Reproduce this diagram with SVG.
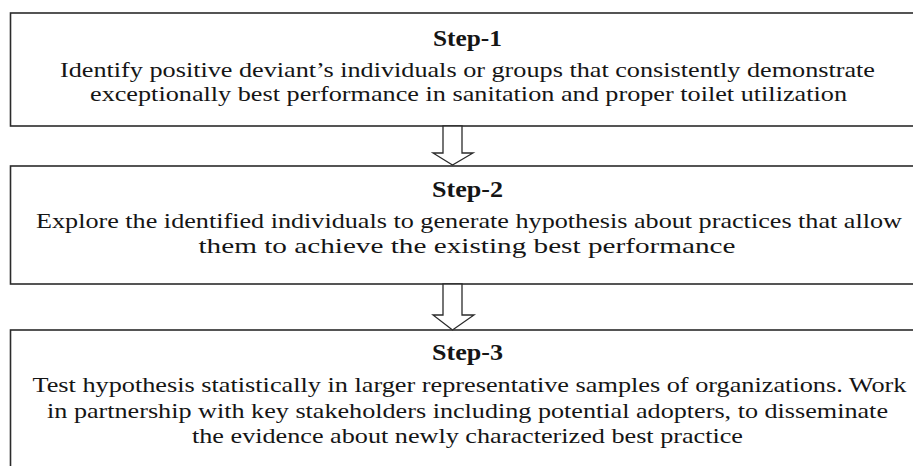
<svg xmlns="http://www.w3.org/2000/svg" width="913" height="466" viewBox="0 0 913 466">
  <style>
    .box { fill: #ffffff; stroke: #2b2b2b; stroke-width: 1.6; }
    .arrow { fill: #ffffff; stroke: #2b2b2b; stroke-width: 1.3; stroke-linejoin: miter; }
    text { font-family: "Liberation Serif", "Times New Roman", "DejaVu Serif", serif; fill: #151515; text-anchor: middle; }
    .title { font-weight: bold; font-size: 23px; }
    .body { font-size: 21.5px; }
  </style>
  <rect width="913" height="466" fill="#ffffff"/>

  <!-- step boxes -->
  <g id="step1">
    <rect class="box" x="10.5" y="13" width="930" height="113"/>
    <text class="title" x="467.5" y="46" textLength="69" lengthAdjust="spacingAndGlyphs">Step-1</text>
    <text class="body" x="467.5" y="77" textLength="815" lengthAdjust="spacingAndGlyphs">Identify positive deviant’s individuals or groups that consistently demonstrate</text>
    <text class="body" x="468.5" y="101" textLength="757" lengthAdjust="spacingAndGlyphs">exceptionally best performance in sanitation and proper toilet utilization</text>
  </g>

  <g id="step2">
    <rect class="box" x="10.5" y="166" width="930" height="118"/>
    <text class="title" x="467.5" y="197" textLength="71" lengthAdjust="spacingAndGlyphs">Step-2</text>
    <text class="body" x="469" y="228" textLength="866" lengthAdjust="spacingAndGlyphs">Explore the identified individuals to generate hypothesis about practices that allow</text>
    <text class="body" x="467" y="253" textLength="537" lengthAdjust="spacingAndGlyphs">them to achieve the existing best performance</text>
  </g>

  <g id="step3">
    <rect class="box" x="10.5" y="330" width="930" height="160"/>
    <text class="title" x="467.5" y="360" textLength="71" lengthAdjust="spacingAndGlyphs">Step-3</text>
    <text class="body" x="469.5" y="392" textLength="874" lengthAdjust="spacingAndGlyphs">Test hypothesis statistically in larger representative samples of organizations. Work</text>
    <text class="body" x="467.5" y="418" textLength="841" lengthAdjust="spacingAndGlyphs">in partnership with key stakeholders including potential adopters, to disseminate</text>
    <text class="body" x="467.5" y="443" textLength="551" lengthAdjust="spacingAndGlyphs">the evidence about newly characterized best practice</text>
  </g>

  <!-- hollow block arrows between steps -->
  <g id="connectors">
    <polygon class="arrow" points="443,126 462,126 462,153 473,153 452.5,165 433,153 443,153"/>
    <polygon class="arrow" points="443,284 462,284 462,315 474,315 452.5,330 433,315 443,315"/>
  </g>
</svg>
